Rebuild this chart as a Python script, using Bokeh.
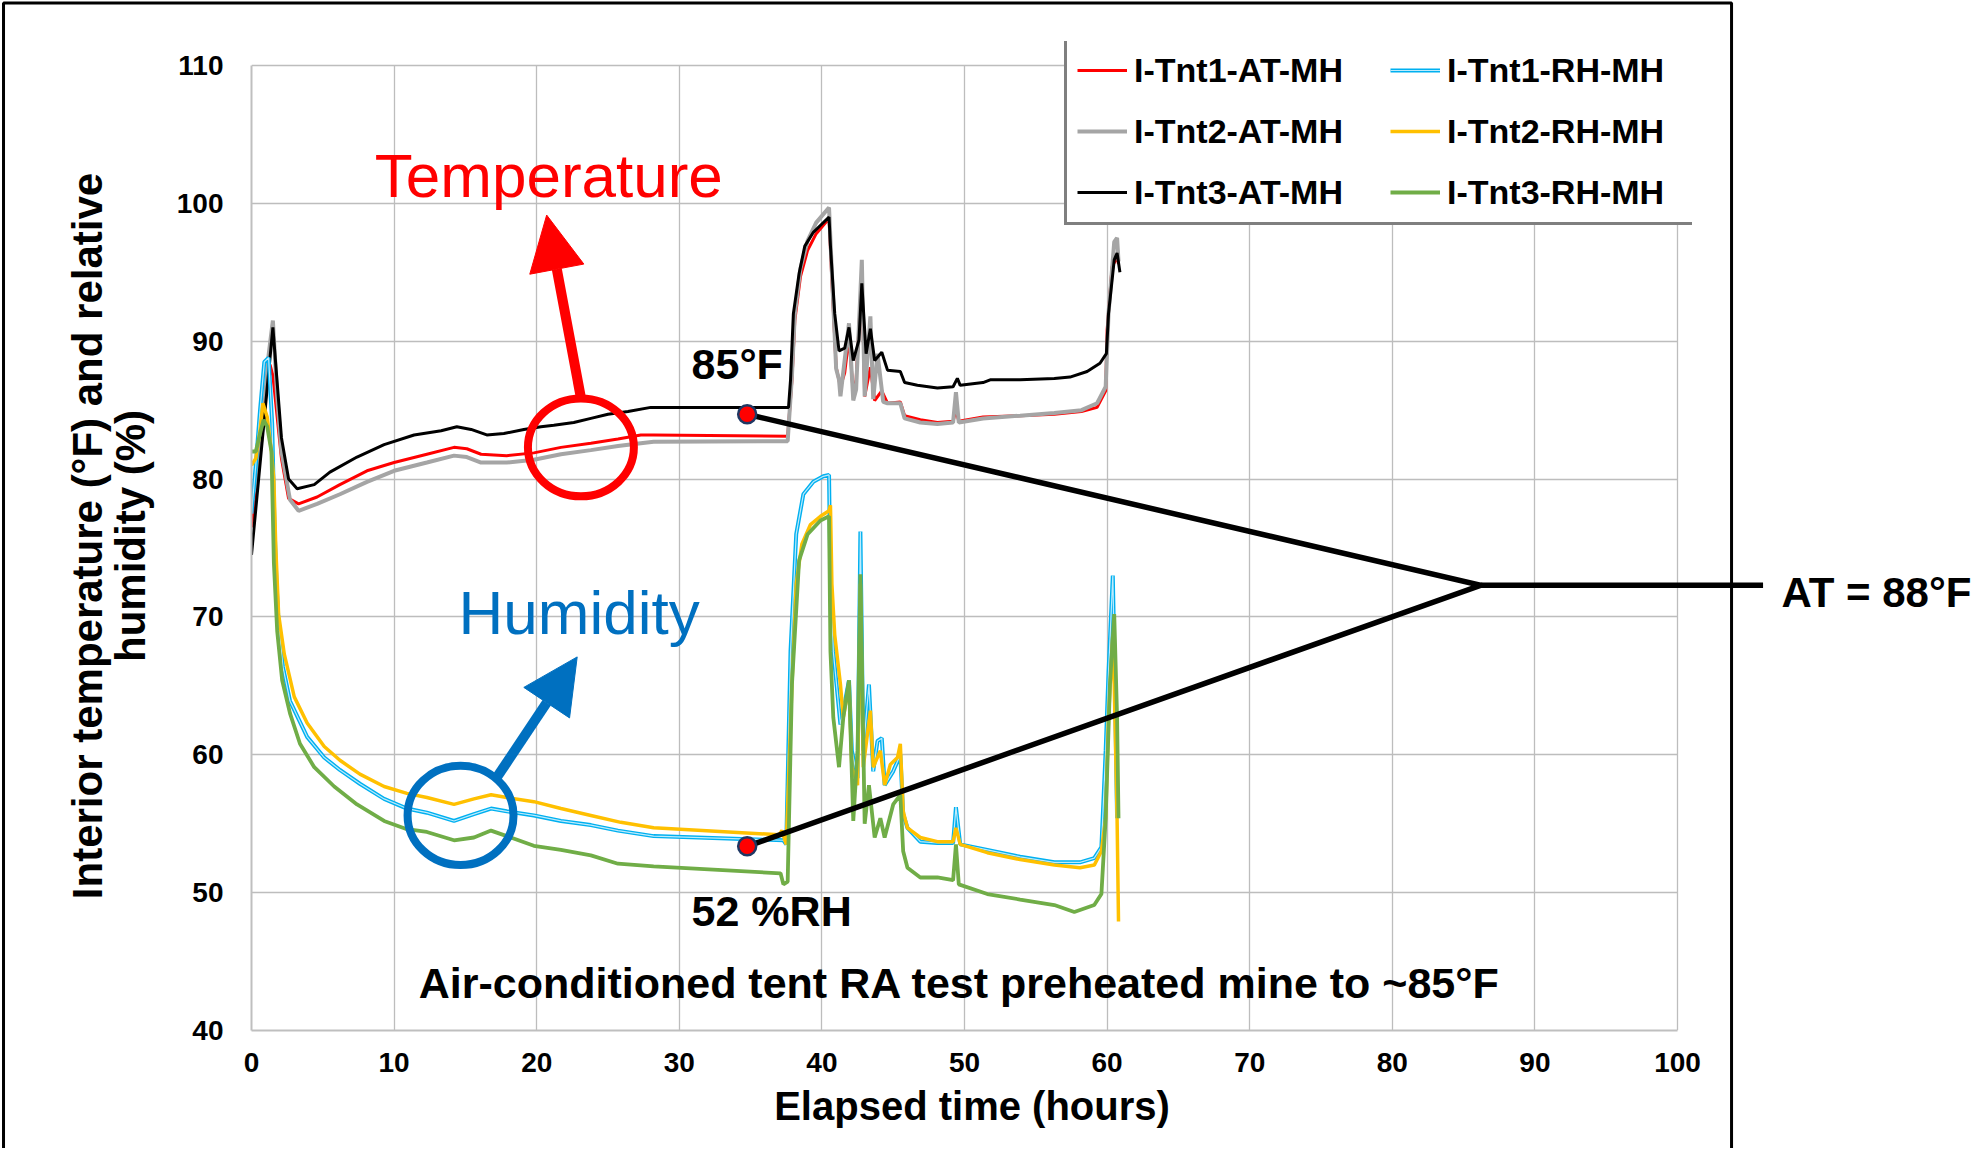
from bokeh.plotting import figure
from bokeh.models import (Range1d, FixedTicker, Legend, LegendItem, Label, Arrow, NormalHead)
from bokeh.embed import file_html
from bokeh.resources import INLINE
from bokeh.core.properties import value

FONT = "Liberation Sans"

# ---------------- data ----------------
x_ticks = [0, 10, 20, 30, 40, 50, 60, 70, 80, 90, 100]
y_ticks = [40, 50, 60, 70, 80, 90, 100, 110]

t1_at_t = [0, 0.3, 0.7, 1.0, 1.3, 1.5, 1.8, 2.1, 2.6, 3.3, 4.6, 6.2, 8.1, 10.0, 12.3, 14.2, 15.1, 16.1, 17.9, 19.8,
           21.7, 23.8, 25.7, 27.3, 28.2, 37.6, 37.9, 38.1, 38.5, 39.0, 39.6, 40.5, 40.7, 41.0, 41.3, 41.6, 41.9, 42.2, 42.4, 42.8,
           43.0, 43.4, 43.7, 44.2, 44.6, 45.5, 45.8, 46.9, 48.1, 49.2, 49.4, 49.6, 51.3, 53.9, 56.3, 58.2, 59.3, 59.9, 60.0, 60.35,
           60.7, 60.8]
t1_at_v = [76.5, 78.5, 83, 86, 88.3, 87.5, 84.5, 81.5, 78.6, 78.2, 78.7, 79.6, 80.6, 81.2, 81.8, 82.3, 82.2, 81.8, 81.7, 81.9,
           82.3, 82.6, 82.9, 83.2, 83.2, 83.1, 87.2, 91.5, 94.7, 96.6, 97.8, 98.9, 94.4, 88.1, 86.7, 87.7, 90.3, 86.2, 87.2, 94.9,
           86.0, 88.1, 85.7, 86.4, 85.5, 85.6, 84.6, 84.3, 84.1, 84.2, 85.0, 84.2, 84.5, 84.6, 84.7, 84.9, 85.2, 86.4, 90.8, 95.4,
           96.1, 95.6]

t2_at_t = [0, 0.4, 0.8, 1.2, 1.5, 1.8, 2.1, 2.7, 3.3, 4.6, 6.2, 8.1, 10.0, 12.3, 14.2, 15.1, 16.1, 17.9, 19.8, 21.7,
           23.8, 25.7, 27.3, 28.2, 37.6, 37.9, 38.1, 38.5, 39.0, 39.6, 40.5, 40.7, 41.0, 41.2, 41.3, 41.9, 42.2, 42.4, 42.8, 43.0,
           43.4, 43.6, 43.9, 44.3, 44.6, 45.5, 45.8, 46.9, 48.1, 49.2, 49.4, 49.6, 51.3, 53.9, 56.3, 58.2, 59.3, 59.9, 60.1, 60.5,
           60.7, 60.8]
t2_at_v = [78.5, 80, 84, 89, 91.5, 86, 82, 78.5, 77.7, 78.2, 78.9, 79.8, 80.6, 81.2, 81.7, 81.6, 81.2, 81.2, 81.4, 81.8,
           82.1, 82.4, 82.6, 82.7, 82.75, 87.5, 92, 95.3, 97.3, 98.6, 99.7, 95, 88, 87.2, 86.0, 91.3, 85.7, 86.5, 95.9, 86.0,
           91.8, 85.8, 89.1, 85.6, 85.5, 85.5, 84.4, 84.1, 84.0, 84.1, 86.3, 84.1, 84.4, 84.6, 84.8, 85.0, 85.5, 86.7, 92, 97.2,
           97.5, 95.8]

t3_at_t = [0, 0.5, 1.0, 1.5, 1.8, 2.1, 2.6, 3.2, 4.4, 5.5, 7.4, 9.3, 11.4, 13.3, 14.4, 15.4, 16.5, 17.7, 19.1, 20.3,
           21.2, 22.6, 23.8, 25.0, 26.4, 28.0, 37.66, 37.8, 38.0, 38.4, 38.8, 39.4, 40.0, 40.5, 40.6, 40.9, 41.2, 41.6, 41.9, 42.2,
           42.6, 42.8, 43.1, 43.4, 43.7, 44.2, 44.6, 45.5, 45.8, 46.7, 48.1, 49.2, 49.5, 49.7, 51.3, 51.8, 53.9, 56.3, 57.4, 58.6,
           59.5, 59.95, 60.1, 60.5, 60.7, 60.9]
t3_at_v = [74.5, 80, 85.5, 91, 87, 83, 80, 79.3, 79.6, 80.5, 81.6, 82.5, 83.2, 83.5, 83.8, 83.6, 83.2, 83.3, 83.6, 83.8,
           83.9, 84.1, 84.4, 84.7, 84.9, 85.2, 85.2, 87.2, 92, 94.9, 96.9, 97.9, 98.5, 99.0, 96.9, 92.0, 89.3, 89.5, 91.0, 88.6,
           90.1, 94.2, 89.1, 90.9, 88.6, 89.2, 87.9, 87.8, 87.0, 86.8, 86.6, 86.7, 87.3, 86.8, 87.0, 87.2, 87.2, 87.3, 87.4, 87.8,
           88.4, 89.1, 92.0, 95.9, 96.4, 95.0]

t1_rh_t = [0, 0.3, 0.6, 0.9, 1.2, 1.45, 1.6, 1.75, 1.9, 2.2, 2.7, 3.9, 5.1, 6.2, 7.6, 9.3, 10.9, 12.3, 14.2, 15.6,
           16.8, 17.9, 19.8, 21.7, 23.8, 25.7, 28.2, 37.3, 37.5, 37.8, 38.2, 38.7, 39.4, 40.1, 40.5, 40.6, 40.8, 41.3, 41.5, 41.9,
           42.1, 42.5, 42.7, 42.9, 43.3, 43.6, 43.9, 44.2, 44.4, 45.0, 45.5, 45.7, 46.0, 46.9, 48.1, 49.2, 49.4, 49.7, 51.6, 53.9,
           56.3, 58.1, 59.1, 59.6, 59.9, 60.1, 60.4, 60.55, 60.7]
t1_rh_v = [77.5, 81, 85, 88.5, 88.8, 84, 77, 72.5, 69.5, 66.4, 63.9, 61.3, 59.8, 58.9, 57.9, 56.8, 56.1, 55.8, 55.2, 55.7,
           56.1, 55.9, 55.6, 55.2, 54.9, 54.5, 54.1, 53.8, 53.5, 67.5, 76, 78.9, 79.8, 80.2, 80.3, 72.4, 67.5, 62.2, 63.2, 65.4,
           60.3, 58.3, 76.2, 60.3, 65.1, 58.8, 61.0, 61.2, 57.8, 58.8, 60.0, 55.7, 54.7, 53.7, 53.6, 53.6, 56.2, 53.5, 53.1, 52.6,
           52.2, 52.2, 52.5, 53.3, 60.3, 66, 73.0, 65.1, 55.4]

t2_rh_t = [0, 0.3, 0.6, 0.8, 1.1, 1.4, 1.57, 1.7, 1.9, 2.3, 3.0, 3.9, 5.1, 6.2, 7.6, 9.3, 10.9, 12.3, 14.2, 15.6,
           16.8, 17.9, 19.8, 21.7, 23.8, 25.9, 28.2, 37.0, 37.2, 37.5, 37.9, 38.2, 38.6, 39.2, 39.9, 40.5, 40.6, 40.7, 40.9, 41.3,
           41.5, 41.9, 42.1, 42.5, 42.7, 42.9, 43.4, 43.6, 44.1, 44.4, 44.8, 45.3, 45.5, 45.7, 46.0, 46.9, 48.1, 49.2, 49.4, 49.7,
           51.6, 53.9, 56.3, 58.1, 59.1, 59.6, 59.9, 60.1, 60.4, 60.5, 60.7, 60.8]
t2_rh_v = [81, 81.5, 83.5, 85.5, 84.5, 82, 79.9, 75.1, 70.2, 67.3, 64.2, 62.3, 60.6, 59.6, 58.6, 57.7, 57.2, 56.9, 56.4, 56.8,
           57.1, 56.9, 56.6, 56.1, 55.6, 55.1, 54.7, 54.2, 54.5, 53.5, 65.1, 72.4, 75.3, 76.7, 77.3, 77.7, 78.1, 72.4, 68.7, 65.1,
           62.7, 65.1, 59.1, 57.8, 72.4, 59.1, 63.2, 59.1, 60.3, 57.8, 59.3, 59.8, 60.8, 55.9, 54.7, 54.0, 53.7, 53.7, 54.7, 53.5,
           52.9, 52.4, 52.0, 51.8, 52.0, 53.0, 55.4, 62.7, 68.7, 65.1, 55.4, 47.9]

t3_rh_t = [0, 0.3, 0.6, 0.85, 1.1, 1.4, 1.57, 1.8, 2.15, 2.7, 3.4, 4.4, 5.8, 7.4, 9.3, 10.9, 12.3, 14.2, 15.6, 16.8,
           17.9, 19.8, 21.7, 23.8, 25.7, 28.2, 37.1, 37.3, 37.6, 37.9, 38.4, 39.0, 39.9, 40.5, 40.6, 40.8, 41.2, 41.5, 41.9, 42.2,
           42.5, 42.7, 43.0, 43.3, 43.7, 44.1, 44.4, 45.0, 45.5, 45.7, 46.0, 46.9, 48.1, 49.2, 49.4, 49.6, 51.6, 53.9, 56.3, 57.7,
           59.1, 59.6, 59.9, 60.2, 60.5, 60.7, 60.8]
t3_rh_v = [82, 82, 83.3, 84.3, 83.8, 82, 73.9, 69, 65.4, 63, 60.8, 59.1, 57.7, 56.4, 55.2, 54.6, 54.4, 53.8, 54.0, 54.5,
           54.1, 53.4, 53.1, 52.7, 52.1, 51.9, 51.4, 50.6, 50.8, 65.1, 74.1, 76.0, 77.0, 77.3, 67.5, 62.7, 59.1, 62.7, 65.4, 55.2,
           60.3, 73.1, 55.0, 57.8, 54.0, 55.4, 54.0, 56.4, 57.1, 53.0, 51.8, 51.1, 51.1, 50.9, 53.5, 50.6, 49.9, 49.5, 49.1, 48.6,
           49.1, 49.9, 55.4, 65.1, 70.2, 62.7, 55.4]

# points marked on the chart (hours, value)
marker_t = [34.76, 34.76]
marker_v = [84.7, 53.36]
apex_t, apex_v = 86.2, 72.3

# ---------------- figure geometry ----------------
W, H = 1976, 1148
AX_L, AX_R, AX_T, AX_B = 251, 1677, 65, 1030        # pixel box of the 0..100 x 40..110 axes
PX_X = (AX_R - AX_L) / 100.0
PX_Y = (AX_B - AX_T) / 70.0
FR_T, FR_R = 41, 1692                                # frame slightly larger so the legend box fits inside
x_end = 100 + (FR_R - AX_R) / PX_X
y_end = 110 + (AX_T - FR_T) / PX_Y

p = figure(width=W, height=H, output_backend="svg", toolbar_location=None,
           x_range=Range1d(0, x_end), y_range=Range1d(40, y_end),
           min_border_left=AX_L, min_border_right=W - FR_R,
           min_border_top=FR_T, min_border_bottom=H - AX_B)
p.background_fill_color = "white"
p.border_fill_color = "white"
p.outline_line_color = None

p.xaxis.ticker = FixedTicker(ticks=x_ticks)
p.yaxis.ticker = FixedTicker(ticks=y_ticks)
p.xaxis.bounds = (0, 100)
p.yaxis.bounds = (40, 110)
for ax in (p.xaxis[0], p.yaxis[0]):
    ax.axis_line_color = "#BFBFBF"
    ax.axis_line_width = 2
    ax.major_tick_line_color = None
    ax.minor_tick_line_color = None
    ax.major_label_text_font = FONT
    ax.major_label_text_font_style = "bold"
    ax.major_label_text_font_size = "28px"
    ax.major_label_text_color = "black"
    ax.axis_label_text_font = FONT
    ax.axis_label_text_font_style = "bold"
    ax.axis_label_text_color = "black"
p.xaxis.major_label_standoff = 16
p.yaxis.major_label_standoff = 22
p.xaxis.axis_label = "Elapsed time (hours)"
p.xaxis.axis_label_text_font_size = "40px"
p.xaxis.axis_label_standoff = 9
p.yaxis.axis_label = "Interior temperature (\u00b0F) and relative\nhumidity (%)"
p.yaxis.axis_label_text_font_size = "42px"
p.yaxis.axis_label_standoff = 20
p.yaxis.axis_label_text_line_height = 0.9

p.grid.grid_line_color = "#BDBDBD"
p.grid.grid_line_width = 1.3
xg, yg = p.xgrid[0], p.ygrid[0]
xg.bounds = (0, 100)
yg.bounds = (40, 110)
if "cross_bounds" in xg.properties():
    xg.cross_bounds = (40, 110)
    yg.cross_bounds = (0, 100)

# ---------------- series ----------------
r_red = p.line(t1_at_t, t1_at_v, line_color="#FF0000", line_width=3)
r_gray = p.line(t2_at_t, t2_at_v, line_color="#A5A5A5", line_width=4)
r_black = p.line(t3_at_t, t3_at_v, line_color="#000000", line_width=3)
r_blue = p.line(t1_rh_t, t1_rh_v, line_color="#00B0F0", line_width=4)
r_blue_in = p.line(t1_rh_t, t1_rh_v, line_color="#BDEBFC", line_width=1.2)
r_yellow = p.line(t2_rh_t, t2_rh_v, line_color="#FFC000", line_width=3.5)
r_green = p.line(t3_rh_t, t3_rh_v, line_color="#70AD47", line_width=3.8)

legend = Legend(items=[
    LegendItem(label="I-Tnt1-AT-MH", renderers=[r_red]),
    LegendItem(label="I-Tnt1-RH-MH", renderers=[r_blue, r_blue_in]),
    LegendItem(label="I-Tnt2-AT-MH", renderers=[r_gray]),
    LegendItem(label="I-Tnt2-RH-MH", renderers=[r_yellow]),
    LegendItem(label="I-Tnt3-AT-MH", renderers=[r_black]),
    LegendItem(label="I-Tnt3-RH-MH", renderers=[r_green]),
], location=(1064 - AX_L, AX_B - 225), orientation="horizontal", ncols=2)
legend.label_text_font = FONT
legend.label_text_font_style = "bold"
legend.label_text_font_size = "34px"
legend.label_text_color = "black"
legend.glyph_width = 50
legend.glyph_height = 40
legend.label_height = 40
legend.label_width = 235
legend.label_standoff = 7
legend.spacing = 21
legend.padding = 10
legend.margin = 0
legend.border_line_color = "black"
legend.border_line_width = 3
legend.background_fill_color = "white"
legend.background_fill_alpha = 1
p.add_layout(legend)

# ---------------- annotations ----------------
p.ellipse(x=[23.1], y=[82.3], width=[7.43], height=[7.1], fill_color=None,
          line_color="#FF0000", line_width=8)
p.ellipse(x=[14.66], y=[55.6], width=[7.43], height=[7.2], fill_color=None,
          line_color="#0070C0", line_width=8)

p.add_layout(Arrow(end=NormalHead(size=55, fill_color="#FF0000", line_color="#FF0000"),
                   x_start=23.1, y_start=85.9, x_end=20.7, y_end=99.15,
                   line_color="#FF0000", line_width=10))
p.add_layout(Arrow(end=NormalHead(size=55, fill_color="#0070C0", line_color="#0070C0"),
                   x_start=17.23, y_start=58.4, x_end=22.84, y_end=67.1,
                   line_color="#0070C0", line_width=10))

p.line([marker_t[0], apex_t, marker_t[1]], [marker_v[0], apex_v, marker_v[1]],
       line_color="black", line_width=5.5, line_join="miter")
p.line([apex_t, 106.0], [apex_v, apex_v], line_color="black", line_width=5.5, level="overlay")
p.scatter(marker_t, marker_v, size=18, fill_color="#FF0000", line_color="#1F3864", line_width=2.5)

def lab(x, y, text, size, color="black", style="bold", align="left"):
    p.add_layout(Label(x=x, y=y, text=text, text_font=FONT, text_font_size=size,
                       text_font_style=style, text_color=color, text_align=align,
                       text_baseline="alphabetic"))

lab(20.85, 101.99, "Temperature", "62px", color="#FF0000", style="normal", align="center")
lab(22.97, 70.35, "Humidity", "62px", color="#0070C0", style="normal", align="center")
lab(30.86, 88.35, "85\u00b0F", "43px")
lab(30.86, 48.65, "52 %RH", "43px")
lab(49.65, 43.43, "Air-conditioned tent RA test preheated mine to ~85\u00b0F", "43px", align="center")

# label outside the plot frame (drawn as overlay so it is not clipped)
p.text(x=[107.29], y=[71.8], text=["AT = 88\u00b0F"], text_font=value(FONT), text_font_style="bold",
       text_font_size="42px", text_color="black", text_align="left", text_baseline="alphabetic",
       level="overlay")

# outer chart border (left, top and right edges), drawn in the plot's coordinate system
p.line([-17.39, -17.39, 103.79, 103.79], [30.0, 114.54, 114.54, 30.0],
       line_color="black", line_width=3, level="overlay")

open("out.html", "w").write(file_html(p, INLINE))
